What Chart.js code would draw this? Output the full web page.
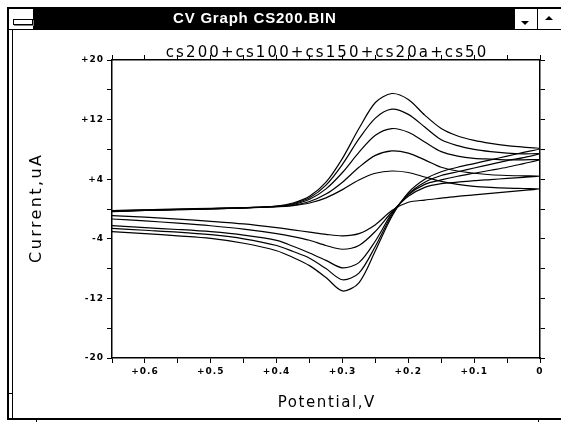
<!DOCTYPE html>
<html>
<head>
<meta charset="utf-8">
<script src="https://cdn.jsdelivr.net/npm/chart.js@4/dist/chart.umd.min.js"></script>
<style>
  html, body { margin: 0; padding: 0; background: #fff; }
  #wrap { position: relative; width: 561px; height: 422px; overflow: hidden; background: #fff; }
  #cv { position: absolute; left: 0; top: 0; }
  .k { position: absolute; background: #000; }
  #cap { position: absolute; left: 173px; top: 9px; height: 21px; line-height: 21px;
         color: #fff; font: bold 15px "Liberation Sans", Arial, sans-serif; letter-spacing: 0.8px; white-space: nowrap; }
  .tri { position: absolute; width: 0; height: 0; border-left: 4px solid transparent; border-right: 4px solid transparent; }
</style>
</head>
<body>
<div id="wrap">
  <canvas id="cv" width="561" height="422"></canvas>

  <!-- window frame -->
  <div class="k" style="left:7px;top:7px;width:554px;height:2px"></div>
  <div class="k" style="left:7px;top:7px;width:2px;height:413px"></div>
  <div class="k" style="left:12px;top:29px;width:1px;height:390px"></div>
  <div class="k" style="left:7px;top:393px;width:6px;height:1px"></div>
  <div class="k" style="left:7px;top:418px;width:554px;height:2px"></div>
  <div class="k" style="left:36px;top:420px;width:1px;height:2px"></div>
  <div class="k" style="left:538px;top:420px;width:1px;height:2px"></div>

  <!-- title bar -->
  <div class="k" style="left:33px;top:9px;width:482px;height:21px"></div>
  <div class="k" style="left:9px;top:29px;width:552px;height:1px"></div>
  <div class="k" style="left:537px;top:9px;width:1px;height:20px"></div>
  <div style="position:absolute;left:13px;top:19px;width:18px;height:4px;border:1px solid #000;background:#fff;box-shadow:1px 1px 0 #808080"></div>
  <div class="tri" style="left:521px;top:21px;border-top:4px solid #000"></div>
  <div class="tri" style="left:545px;top:16px;border-bottom:4px solid #000"></div>
  <div id="cap">CV Graph CS200.BIN</div>
</div>

<script>
// potential (V), scanned from +0.65 down to 0 and back
const potentials = [0.65, 0.60, 0.55, 0.50, 0.45, 0.40, 0.375, 0.35, 0.325, 0.30, 0.275, 0.25,
                    0.225, 0.20, 0.175, 0.15, 0.125, 0.10, 0.075, 0.05, 0.025, 0];

// current (uA), forward (upper) branch, same order as potentials
const cs200Fwd = [-0.35, -0.2, -0.1, 0.0, 0.15, 0.4, 0.8, 1.7, 3.6, 6.8, 10.8, 14.3, 15.5, 14.7, 12.6, 10.8, 9.8, 9.2, 8.8, 8.5, 8.3, 8.1];
const cs150Fwd = [-0.3, -0.2, -0.1, 0.0, 0.15, 0.35, 0.7, 1.5, 3.2, 6.0, 9.4, 12.2, 13.4, 12.7, 11.0, 9.3, 8.5, 8.0, 7.7, 7.5, 7.4, 7.4];
const cs100Fwd = [-0.3, -0.15, -0.05, 0.05, 0.15, 0.35, 0.6, 1.3, 2.7, 4.9, 7.6, 9.9, 10.8, 10.3, 9.0, 7.7, 7.1, 6.8, 6.7, 6.6, 6.6, 6.6];
const cs50Fwd  = [-0.25, -0.15, -0.05, 0.05, 0.15, 0.3, 0.5, 1.0, 2.0, 3.6, 5.6, 7.2, 7.8, 7.5, 6.6, 5.6, 5.1, 4.8, 4.6, 4.5, 4.45, 4.4];
const cs20aFwd = [-0.2, -0.1, 0.0, 0.1, 0.2, 0.3, 0.45, 0.8, 1.5, 2.6, 3.9, 4.8, 5.1, 4.9, 4.3, 3.7, 3.3, 3.05, 2.9, 2.8, 2.75, 2.7];

// current (uA), return (lower) branch, same order as potentials
const cs200Rev = [-3.05, -3.3, -3.6, -3.95, -4.6, -5.6, -6.5, -7.6, -9.2, -11.0, -9.9, -5.6, -1.0, 2.2, 4.0, 5.0, 5.6, 6.1, 6.6, 7.1, 7.6, 8.1];
const cs150Rev = [-2.6, -2.85, -3.1, -3.45, -4.0, -4.9, -5.7, -6.6, -8.0, -9.5, -8.6, -5.0, -0.8, 2.0, 3.6, 4.5, 5.0, 5.5, 6.0, 6.5, 6.9, 7.4];
const cs100Rev = [-2.24, -2.5, -2.75, -3.05, -3.5, -4.2, -5.0, -5.9, -6.9, -7.9, -7.2, -4.3, -0.6, 1.9, 3.3, 3.9, 4.4, 4.8, 5.2, 5.6, 6.1, 6.6];
const cs50Rev  = [-1.34, -1.6, -1.9, -2.25, -2.7, -3.3, -3.7, -4.2, -4.9, -5.4, -4.9, -3.0, -0.4, 1.7, 2.9, 3.4, 3.6, 3.8, 3.95, 4.1, 4.25, 4.4];
const cs20aRev = [-0.9, -1.1, -1.35, -1.65, -2.0, -2.5, -2.8, -3.1, -3.4, -3.6, -3.3, -2.1, -0.2, 0.9, 1.2, 1.45, 1.7, 1.9, 2.1, 2.3, 2.5, 2.7];

const chartTitle = "cs200+cs100+cs150+cs20a+cs50";
const xTitle = "Potential,V";
const yTitle = "Current,uA";

// one closed sweep: forward branch then the return branch back to +0.65 V
function sweep(fwd, rev) {
  const out = potentials.map((p, i) => ({ x: p, y: fwd[i] }));
  for (let i = potentials.length - 2; i >= 0; i--) out.push({ x: potentials[i], y: rev[i] });
  return out;
}

const curves = [
  { label: "cs200", data: sweep(cs200Fwd, cs200Rev) },
  { label: "cs150", data: sweep(cs150Fwd, cs150Rev) },
  { label: "cs100", data: sweep(cs100Fwd, cs100Rev) },
  { label: "cs50",  data: sweep(cs50Fwd,  cs50Rev) },
  { label: "cs20a", data: sweep(cs20aFwd, cs20aRev) },
];

const tickFont = { family: '"DejaVu Sans", sans-serif', size: 9, weight: 'bold' };

function xLabel(v) {
  const k = Math.round(v * 20);
  if (k % 2) return '';
  return k === 0 ? '0' : '+' + v.toFixed(1);
}
function yLabel(v) {
  if ((v + 20) % 8 !== 0) return '';
  return v > 0 ? '+' + v : String(v);
}

// titles in the wide look of the original
const titles = {
  id: 'titles',
  beforeDraw(chart) { chart.ctx.letterSpacing = '1px'; },
  afterDraw(chart) {
    const ctx = chart.ctx, a = chart.chartArea;
    const cx = (a.left + a.right) / 2;
    ctx.save();
    ctx.fillStyle = '#000';
    ctx.textAlign = 'left';
    ctx.textBaseline = 'alphabetic';

    ctx.font = '15px "DejaVu Sans", sans-serif';
    ctx.letterSpacing = '2.1px';
    let w = ctx.measureText(chartTitle).width - 2.1;
    ctx.fillText(chartTitle, cx - w / 2, a.top - 3);

    ctx.letterSpacing = '1.6px';
    w = ctx.measureText(xTitle).width - 1.6;
    ctx.fillText(xTitle, cx - w / 2, a.bottom + 49);

    ctx.font = '16px "DejaVu Sans", sans-serif';
    ctx.letterSpacing = '2.4px';
    w = ctx.measureText(yTitle).width - 2.4;
    const cy = (a.top + a.bottom) / 2;
    ctx.translate(40.5, cy + w / 2);
    ctx.rotate(-Math.PI / 2);
    ctx.fillText(yTitle, 0, 0);
    ctx.restore();
    ctx.letterSpacing = '0px';
  }
};

function frameAxis(pos, extra) {
  return Object.assign({
    type: 'linear',
    position: pos,
    grid: { drawOnChartArea: false, drawTicks: true, tickLength: 5, color: '#000', tickWidth: 1 },
    border: { display: true, color: '#000', width: 1.5 },
  }, extra);
}

new Chart(document.getElementById('cv'), {
  type: 'scatter',
  data: {
    datasets: curves.map(c => ({
      label: c.label,
      data: c.data,
      showLine: true,
      borderColor: '#000',
      backgroundColor: '#000',
      borderWidth: 1.2,
      pointRadius: 0,
      tension: 0.3,
      fill: false,
    })),
  },
  options: {
    responsive: false,
    animation: false,
    devicePixelRatio: 1,
    layout: { padding: { left: 13, right: 0, top: 57, bottom: 0 } },
    plugins: { legend: { display: false }, title: { display: false }, tooltip: { enabled: false } },
    scales: {
      x: frameAxis('bottom', {
        min: 0, max: 0.65, reverse: true,
        ticks: { stepSize: 0.05, autoSkip: false, maxRotation: 0, color: '#000', font: tickFont, padding: 3, callback: xLabel },
        afterFit: s => { s.height = 64; },
      }),
      x2: frameAxis('top', {
        min: 0, max: 0.65, reverse: true,
        ticks: { stepSize: 0.05, display: false },
        afterFit: s => { s.height = 3; },
      }),
      y: frameAxis('left', {
        min: -20, max: 20,
        ticks: { stepSize: 4, autoSkip: false, color: '#000', font: tickFont, padding: 3, callback: yLabel },
        afterFit: s => { s.width = 99; },
      }),
      y2: frameAxis('right', {
        min: -20, max: 20,
        ticks: { stepSize: 4, display: false },
        afterFit: s => { s.width = 21; },
      }),
    },
  },
  plugins: [titles],
});
</script>
</body>
</html>
